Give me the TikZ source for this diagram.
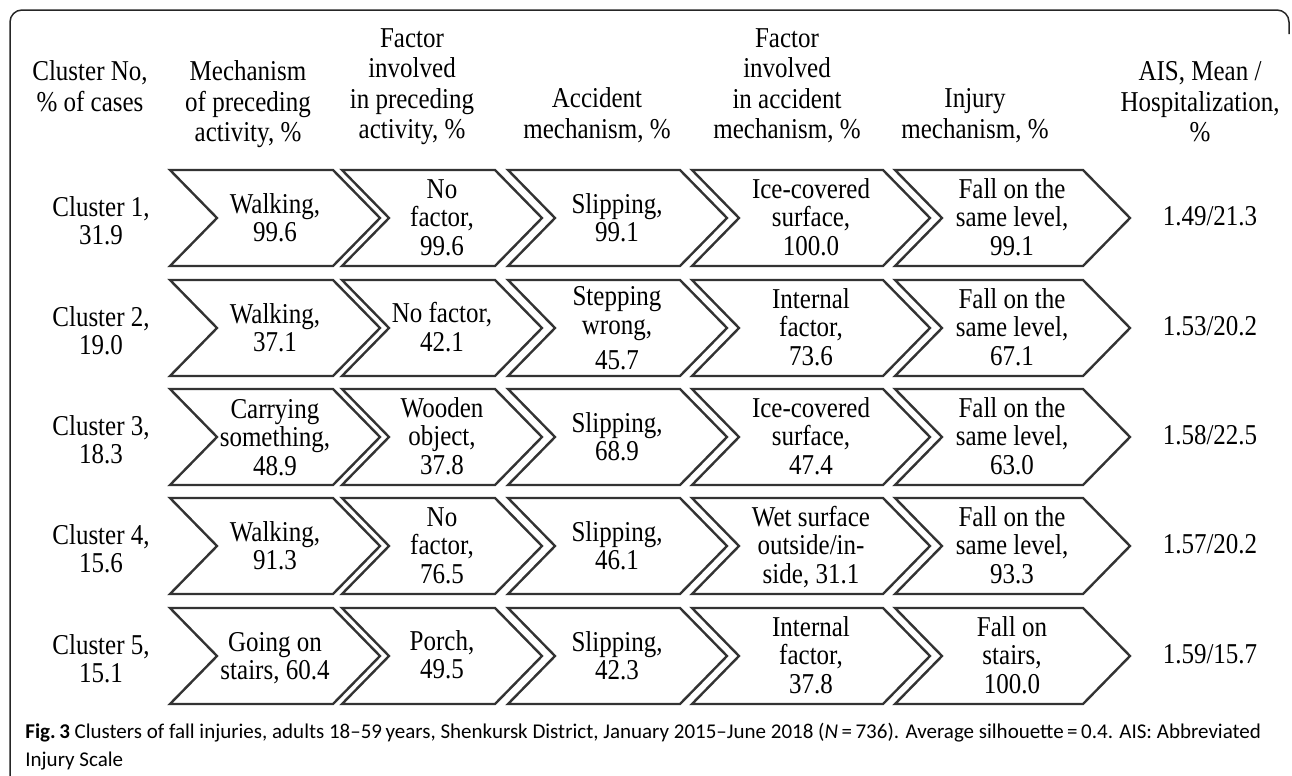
\documentclass[tikz,border=0pt]{standalone}
\usepackage{graphicx}
\usepackage{fontspec}
\setmainfont{Liberation Serif}
\newfontfamily\capfont[Ligatures=TeX]{Carlito}
\usetikzlibrary{positioning}

% text in the figure is set a little taller than wide
\newcommand{\tallt}[2]{\scalebox{1}[1.15]{\fontsize{12.5}{#1}\selectfont
	\begin{tabular}{@{}c@{}}#2\end{tabular}}}
\newcommand{\headt}[1]{\tallt{13.2}{#1}}
\newcommand{\cellt}[1]{\tallt{12.4}{#1}}

\tikzset{
	chevline/.style={line width=1.2pt, draw=black!80, line join=miter},
	head/.style={inner sep=0pt},
	cell/.style={inner sep=0pt},
}

\begin{document}
\begin{tikzpicture}[x=0.5pt,y=-0.5pt]
			\useasboundingbox (0,0) rectangle (1292,776);
			% frame
			\draw[line width=0.75pt, black!85, rounded corners=6pt] (10,776) -- (10,10) -- (1289,10) -- (1289,34);
			% column heads
			\node[head] (h0) at (90,90) {\headt{Cluster No,\\\% of cases}};
			\node[head] (h1) at (248,105) {\headt{Mechanism\\of preceding\\activity, \%}};
			\node[head] (h2) at (412,87) {\headt{Factor\\involved\\in preceding\\activity, \%}};
			\node[head] (h3) at (597,117) {\headt{Accident\\mechanism, \%}};
			\node[head] (h4) at (787,87) {\headt{Factor\\involved\\in accident\\mechanism, \%}};
			\node[head] (h5) at (975,117) {\headt{Injury\\mechanism, \%}};
			\node[head] (h6) at (1200,105) {\headt{AIS, Mean /\\Hospitalization,\\\%}};
			% chevrons, one row per cluster
			\foreach \t in {170,280,389,498,608} {
				\foreach \a/\b in {170/333, 342/495, 508/680, 692/883, 895/1083} {
					\draw[chevline] (\a,\t) -- (\b,\t) -- (\b+47,\t+48) -- (\b,\t+96)
						-- (\a,\t+96) -- (\a+47,\t+48) -- cycle;
				}
			}
			% row texts
			\foreach \t/\k/\ca/\cb/\cc/\cd/\ce/\v [count=\i] in {
				170/{Cluster 1,\\31.9}/{Walking,\\99.6}/{No\\factor,\\99.6}/{Slipping,\\99.1}/{Ice-covered\\surface,\\100.0}/{Fall on the\\same level,\\99.1}/{1.49/21.3},
				280/{Cluster 2,\\19.0}/{Walking,\\37.1}/{No factor,\\42.1}/{Stepping\\wrong,\\[3pt]45.7}/{Internal\\factor,\\73.6}/{Fall on the\\same level,\\67.1}/{1.53/20.2},
				389/{Cluster 3,\\18.3}/{Carrying\\something,\\48.9}/{Wooden\\object,\\37.8}/{Slipping,\\68.9}/{Ice-covered\\surface,\\47.4}/{Fall on the\\same level,\\63.0}/{1.58/22.5},
				498/{Cluster 4,\\15.6}/{Walking,\\91.3}/{No\\factor,\\76.5}/{Slipping,\\46.1}/{Wet surface\\outside/in-\\side, 31.1}/{Fall on the\\same level,\\93.3}/{1.57/20.2},
				608/{Cluster 5,\\15.1}/{Going on\\stairs, 60.4}/{Porch,\\49.5}/{Slipping,\\42.3}/{Internal\\factor,\\37.8}/{Fall on\\stairs,\\100.0}/{1.59/15.7}} {
				\node[cell] (k\i) at (101,\t+55) {\cellt{\k}};
				\node[cell] (a\i) at (275,\t+52) {\cellt{\ca}};
				\node[cell] (b\i) at (442,\t+51) {\cellt{\cb}};
				\node[cell] (c\i) at (617,\t+52) {\cellt{\cc}};
				\node[cell] (d\i) at (811,\t+51) {\cellt{\cd}};
				\node[cell] (e\i) at (1012,\t+51) {\cellt{\ce}};
				\node[cell] (v\i) at (1210,\t+50) {\cellt{\v}};
			}
			% caption
			\node[anchor=west, align=left, inner sep=0pt, font=\capfont\fontsize{10.5}{14}\selectfont] (cap) at (25,747)
				{\textbf{Fig.\,3} Clusters of fall injuries, adults 18--59\,years, Shenkursk District, January 2015--June 2018 ({\itshape N}\,=\,736). Average silhouette\,=\,0.4. AIS: Abbreviated\\Injury Scale};
		\end{tikzpicture}
\end{document}
